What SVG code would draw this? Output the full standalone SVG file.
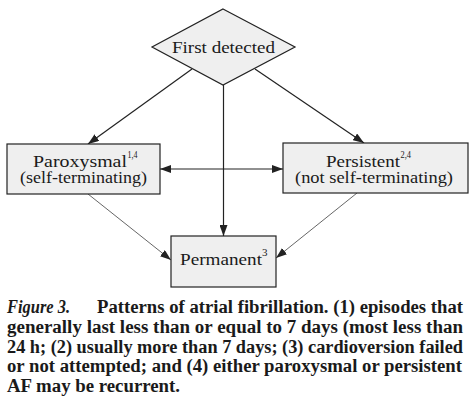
<svg xmlns="http://www.w3.org/2000/svg" width="473" height="405" viewBox="0 0 473 405">
<style>
.box{fill:#efefef;stroke:#222;stroke-width:1.2}
.lbl{font-family:"Liberation Serif","DejaVu Serif",serif;font-size:17px;fill:#1a1a1a}
.sup{font-family:"Liberation Serif","DejaVu Serif",serif;font-size:11px;fill:#1a1a1a}
.edge{fill:none;stroke:#222;stroke-width:1.2}
.edge2{fill:none;stroke:#555;stroke-width:0.9}
.cap{font-family:"Liberation Serif","DejaVu Serif",serif;font-size:18px;font-weight:bold;fill:#1a1a1a}
</style>
<defs>
<marker id="ah" viewBox="0 0 11 8" refX="11" refY="4" markerWidth="11" markerHeight="8" markerUnits="userSpaceOnUse" orient="auto-start-reverse">
<path d="M0,0 L11,4 L0,8 z" fill="#222"/>
</marker>
</defs>
<rect width="473" height="405" fill="#fff"/>
<g id="connectors">
<path class="edge" d="M192,69 L88,144" marker-end="url(#ah)"/>
<path class="edge" d="M255,69 L364,143" marker-end="url(#ah)"/>
<path class="edge" d="M223.5,85 L223.5,236" marker-end="url(#ah)"/>
<path class="edge" d="M160,169 L283,169" marker-start="url(#ah)" marker-end="url(#ah)"/>
<path class="edge2" d="M88,194 L171,260" marker-end="url(#ah)"/>
<path class="edge2" d="M357,193 L276,258" marker-end="url(#ah)"/>
</g>
<g id="first-detected">
<polygon class="box" points="223,9 295,47 223,85 152,47"/>
<text class="lbl" x="172" y="53" textLength="103" lengthAdjust="spacingAndGlyphs">First detected</text>
</g>
<g id="paroxysmal">
<rect class="box" x="7" y="144" width="153" height="50"/>
<text class="lbl" x="33" y="167" textLength="94" lengthAdjust="spacingAndGlyphs">Paroxysmal</text>
<text class="sup" x="127.5" y="158" textLength="10" lengthAdjust="spacingAndGlyphs">1,4</text>
<text class="lbl" x="20" y="183" textLength="127" lengthAdjust="spacingAndGlyphs">(self-terminating)</text>
</g>
<g id="persistent">
<rect class="box" x="283" y="143" width="185" height="50"/>
<text class="lbl" x="326" y="167" textLength="74" lengthAdjust="spacingAndGlyphs">Persistent</text>
<text class="sup" x="400.5" y="158" textLength="10.5" lengthAdjust="spacingAndGlyphs">2,4</text>
<text class="lbl" x="295" y="183" textLength="158" lengthAdjust="spacingAndGlyphs">(not self-terminating)</text>
</g>
<g id="permanent">
<rect class="box" x="171" y="236" width="105" height="51"/>
<text class="lbl" x="180" y="265" textLength="82" lengthAdjust="spacingAndGlyphs">Permanent</text>
<text class="sup" x="262" y="256">3</text>
</g>
<g id="caption">
<text class="cap" x="7" y="313" font-style="italic" textLength="63" lengthAdjust="spacingAndGlyphs">Figure 3.</text>
<text class="cap" x="97" y="313" textLength="366" lengthAdjust="spacingAndGlyphs">Patterns of atrial fibrillation. (1) episodes that</text>
<text class="cap" x="7" y="333" textLength="456" lengthAdjust="spacingAndGlyphs">generally last less than or equal to 7 days (most less than</text>
<text class="cap" x="7" y="352.5" textLength="456" lengthAdjust="spacingAndGlyphs">24 h; (2) usually more than 7 days; (3) cardioversion failed</text>
<text class="cap" x="7" y="372" textLength="455" lengthAdjust="spacingAndGlyphs">or not attempted; and (4) either paroxysmal or persistent</text>
<text class="cap" x="7" y="391.5" textLength="173" lengthAdjust="spacingAndGlyphs">AF may be recurrent.</text>
</g>
</svg>
